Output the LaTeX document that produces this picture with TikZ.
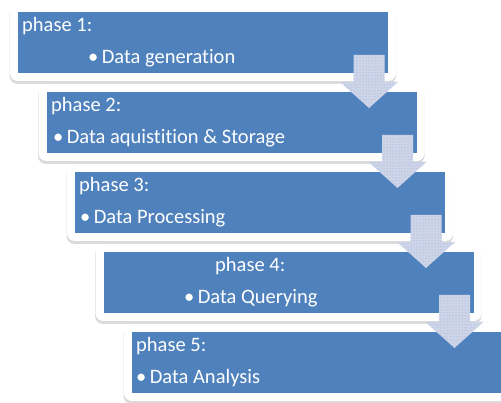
\documentclass[tikz,border=0pt]{standalone}
\usepackage{fontspec}
\setmainfont{Carlito}[Ligatures={NoCommon,NoRequired,NoContextual}]
\usetikzlibrary{patterns}
\definecolor{phaseblue}{RGB}{79,129,189}
\definecolor{arrowfill}{RGB}{206,213,232}
\definecolor{arrowdot}{RGB}{140,165,212}
\begin{document}
\begin{tikzpicture}[x=1pt,y=-1pt,
    shade box/.style={fill=black, opacity=0.14, rounded corners=8pt},
    frame box/.style={fill=white, rounded corners=8pt},
    panel/.style={fill=phaseblue},
    phasetext/.style={text=white, anchor=base west, inner sep=0pt, font=\fontsize{20.5}{24}\selectfont},
    flow/.style={preaction={fill=arrowfill}, pattern=dots, pattern color=arrowdot}]
    \clip (0,0) rectangle (501,403);
    %Phase 1
    \fill[shade box] (9.5,7) rectangle (396,84);
    \fill[frame box] (10,4) rectangle (396,81);
    \fill[panel] (18,12) rectangle (388,73);
    \node[phasetext] (ph1) at (22,32) {phase 1:};
    \node[phasetext] (it1) at (88,64) {•\,Data generation};
    %Phase 2
    \fill[shade box] (38,87) rectangle (424.5,164);
    \fill[frame box] (38.5,84) rectangle (424.5,161);
    \fill[panel] (46.5,92) rectangle (416.5,153);
    \node[phasetext] (ph2) at (51,112) {phase 2:};
    \node[phasetext] (it2) at (53,144) {•\,Data aquistition \& Storage};
    %Phase 3
    \fill[shade box] (66.5,167) rectangle (453,244);
    \fill[frame box] (67,164) rectangle (453,241);
    \fill[panel] (75,172) rectangle (445,233);
    \node[phasetext] (ph3) at (79,192) {phase 3:};
    \node[phasetext] (it3) at (80,224) {•\,Data Processing};
    %Phase 4
    \fill[shade box] (95,247) rectangle (481.5,324);
    \fill[frame box] (95.5,244) rectangle (481.5,321);
    \fill[panel] (103.5,252) rectangle (473.5,313);
    \node[phasetext] (ph4) at (215,272) {phase 4:};
    \node[phasetext] (it4) at (184,304) {•\,Data Querying};
    %Phase 5
    \fill[shade box] (123.5,327) rectangle (510,404);
    \fill[frame box] (124,324) rectangle (510,401);
    \fill[panel] (132,332) rectangle (502,393);
    \node[phasetext] (ph5) at (136,352) {phase 5:};
    \node[phasetext] (it5) at (136,384) {•\,Data Analysis};
    %Mũi tên
    \fill[flow] (353.5,55)--(384.5,55)--(384.5,82)--(398,82)--(369,108)--(340,82)--(353.5,82)--cycle;
    \fill[flow] (382,135)--(413,135)--(413,162)--(426.5,162)--(397.5,188)--(368.5,162)--(382,162)--cycle;
    \fill[flow] (410.5,215)--(441.5,215)--(441.5,242)--(455,242)--(426,268)--(397,242)--(410.5,242)--cycle;
    \fill[flow] (439,295)--(470,295)--(470,322)--(483.5,322)--(454.5,348)--(425.5,322)--(439,322)--cycle;
\end{tikzpicture}
\end{document}
